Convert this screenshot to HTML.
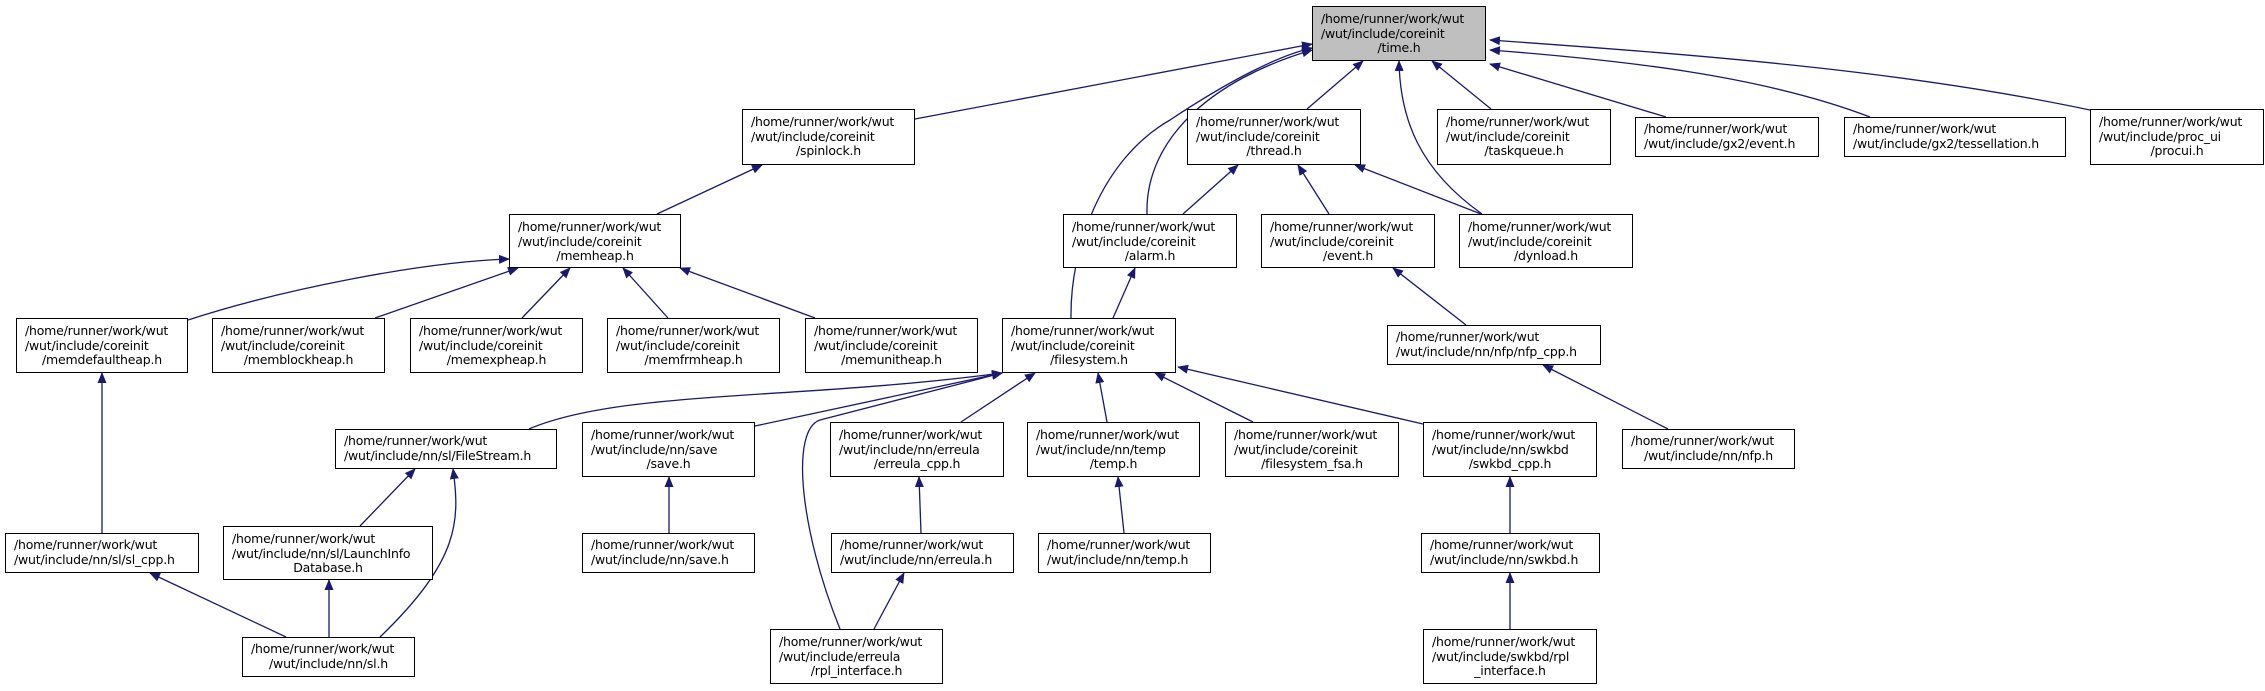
<!DOCTYPE html>
<html><head><meta charset="utf-8"><style>
html,body{margin:0;padding:0;background:#fff;}
#c{position:relative;width:2265px;height:691px;overflow:hidden;}
svg{position:absolute;left:0;top:0;}
.b{position:absolute;box-sizing:border-box;border:1px solid #000;background:#fff;font-family:"DejaVu Sans","Liberation Sans",sans-serif;font-size:12.5px;line-height:14.6px;color:#000;padding:5px 0 0 8px;white-space:nowrap;letter-spacing:-0.2px;}
.b.g{background:#bfbfbf;}
.b.t2{padding-top:4px;}
.b div.l{text-align:center;padding-right:8px;}
</style></head><body><div id="c">
<svg width="2265" height="691" viewBox="0 0 2265 691">
<defs><marker id="a" markerWidth="11" markerHeight="9" refX="10" refY="4.5" orient="auto" markerUnits="userSpaceOnUse"><path d="M0,0 L11,4.5 L0,9 z" fill="#191970"/></marker></defs>
<g fill="none" stroke="#191970" stroke-width="1.3" marker-end="url(#a)">
<path d="M915,119 L1312,44"/>
<path d="M657,214 L762,165"/>
<path d="M188,320 C280,290 420,262 509,259"/>
<path d="M375,318 L518,268"/>
<path d="M522,318 L570,268"/>
<path d="M668,318 L623,268"/>
<path d="M815,318 L680,268"/>
<path d="M1071,318 C1070,250 1100,160 1170,120 C1230,80 1280,55 1312,48"/>
<path d="M1147,214 C1145,140 1210,80 1312,50"/>
<path d="M1307,109 L1363,61"/>
<path d="M1491,109 L1432,61"/>
<path d="M1482,214 C1420,170 1400,120 1399,61"/>
<path d="M1666,117 L1490,64"/>
<path d="M1870,117 C1760,75 1620,60 1490,50"/>
<path d="M2090,110 C1900,70 1700,55 1490,40"/>
<path d="M1183,214 L1238,165"/>
<path d="M1329,214 L1298,165"/>
<path d="M1481,214 L1355,165"/>
<path d="M1113,318 L1135,268"/>
<path d="M1466,325 L1393,268"/>
<path d="M1668,429 L1543,365"/>
<path d="M529,429 C620,390 800,400 1002,373"/>
<path d="M755,426 L1002,373"/>
<path d="M840,629 C800,530 790,430 820,420 L1002,373"/>
<path d="M961,422 L1035,373"/>
<path d="M1107,422 L1098,373"/>
<path d="M1253,422 L1155,373"/>
<path d="M1423,424 L1178,367"/>
<path d="M102,533 L102,373"/>
<path d="M360,526 L415,469"/>
<path d="M380,637 C460,560 460,520 453,469"/>
<path d="M286,637 L150,573"/>
<path d="M329,637 L329,580"/>
<path d="M669,533 L669,477"/>
<path d="M921,533 L919,477"/>
<path d="M874,629 L904,573"/>
<path d="M1124,533 L1118,477"/>
<path d="M1510,533 L1510,477"/>
<path d="M1510,629 L1510,573"/>
</g></svg>

<div class="b g" style="left:1312px;top:6px;width:174px;height:55px">/home/runner/work/wut<br>/wut/include/coreinit<div class="l">/time.h</div></div>
<div class="b" style="left:742px;top:109px;width:173px;height:56px">/home/runner/work/wut<br>/wut/include/coreinit<div class="l">/spinlock.h</div></div>
<div class="b" style="left:1187px;top:109px;width:174px;height:56px">/home/runner/work/wut<br>/wut/include/coreinit<div class="l">/thread.h</div></div>
<div class="b" style="left:1437px;top:109px;width:174px;height:56px">/home/runner/work/wut<br>/wut/include/coreinit<div class="l">/taskqueue.h</div></div>
<div class="b t2" style="left:1635px;top:117px;width:184px;height:40px">/home/runner/work/wut<br>/wut/include/gx2/event.h</div>
<div class="b t2" style="left:1844px;top:117px;width:222px;height:40px">/home/runner/work/wut<br>/wut/include/gx2/tessellation.h</div>
<div class="b" style="left:2090px;top:109px;width:174px;height:56px">/home/runner/work/wut<br>/wut/include/proc_ui<div class="l">/procui.h</div></div>

<div class="b" style="left:509px;top:214px;width:172px;height:54px">/home/runner/work/wut<br>/wut/include/coreinit<div class="l">/memheap.h</div></div>
<div class="b" style="left:1063px;top:214px;width:174px;height:54px">/home/runner/work/wut<br>/wut/include/coreinit<div class="l">/alarm.h</div></div>
<div class="b" style="left:1261px;top:214px;width:174px;height:54px">/home/runner/work/wut<br>/wut/include/coreinit<div class="l">/event.h</div></div>
<div class="b" style="left:1459px;top:214px;width:174px;height:54px">/home/runner/work/wut<br>/wut/include/coreinit<div class="l">/dynload.h</div></div>
<div class="b t2" style="left:1387px;top:325px;width:214px;height:40px">/home/runner/work/wut<br>/wut/include/nn/nfp/nfp_cpp.h</div>

<div class="b" style="left:16px;top:318px;width:172px;height:55px">/home/runner/work/wut<br>/wut/include/coreinit<div class="l">/memdefaultheap.h</div></div>
<div class="b" style="left:212px;top:318px;width:173px;height:55px">/home/runner/work/wut<br>/wut/include/coreinit<div class="l">/memblockheap.h</div></div>
<div class="b" style="left:410px;top:318px;width:173px;height:55px">/home/runner/work/wut<br>/wut/include/coreinit<div class="l">/memexpheap.h</div></div>
<div class="b" style="left:607px;top:318px;width:173px;height:55px">/home/runner/work/wut<br>/wut/include/coreinit<div class="l">/memfrmheap.h</div></div>
<div class="b" style="left:805px;top:318px;width:173px;height:55px">/home/runner/work/wut<br>/wut/include/coreinit<div class="l">/memunitheap.h</div></div>
<div class="b" style="left:1002px;top:318px;width:174px;height:55px">/home/runner/work/wut<br>/wut/include/coreinit<div class="l">/filesystem.h</div></div>

<div class="b t2" style="left:335px;top:429px;width:222px;height:40px">/home/runner/work/wut<br>/wut/include/nn/sl/FileStream.h</div>
<div class="b" style="left:582px;top:422px;width:173px;height:55px">/home/runner/work/wut<br>/wut/include/nn/save<div class="l">/save.h</div></div>
<div class="b" style="left:830px;top:422px;width:174px;height:55px">/home/runner/work/wut<br>/wut/include/nn/erreula<div class="l">/erreula_cpp.h</div></div>
<div class="b" style="left:1027px;top:422px;width:173px;height:55px">/home/runner/work/wut<br>/wut/include/nn/temp<div class="l">/temp.h</div></div>
<div class="b" style="left:1225px;top:422px;width:174px;height:55px">/home/runner/work/wut<br>/wut/include/coreinit<div class="l">/filesystem_fsa.h</div></div>
<div class="b" style="left:1423px;top:422px;width:174px;height:55px">/home/runner/work/wut<br>/wut/include/nn/swkbd<div class="l">/swkbd_cpp.h</div></div>
<div class="b t2" style="left:1622px;top:429px;width:173px;height:40px">/home/runner/work/wut<br><div class="l">/wut/include/nn/nfp.h</div></div>

<div class="b t2" style="left:5px;top:533px;width:194px;height:40px">/home/runner/work/wut<br>/wut/include/nn/sl/sl_cpp.h</div>
<div class="b" style="left:223px;top:526px;width:210px;height:54px">/home/runner/work/wut<br>/wut/include/nn/sl/LaunchInfo<div class="l">Database.h</div></div>
<div class="b t2" style="left:582px;top:533px;width:173px;height:40px">/home/runner/work/wut<br>/wut/include/nn/save.h</div>
<div class="b t2" style="left:831px;top:533px;width:183px;height:40px">/home/runner/work/wut<br>/wut/include/nn/erreula.h</div>
<div class="b t2" style="left:1038px;top:533px;width:173px;height:40px">/home/runner/work/wut<br>/wut/include/nn/temp.h</div>
<div class="b t2" style="left:1421px;top:533px;width:179px;height:40px">/home/runner/work/wut<br>/wut/include/nn/swkbd.h</div>

<div class="b t2" style="left:242px;top:637px;width:173px;height:40px">/home/runner/work/wut<br><div class="l">/wut/include/nn/sl.h</div></div>
<div class="b" style="left:770px;top:629px;width:173px;height:55px">/home/runner/work/wut<br>/wut/include/erreula<div class="l">/rpl_interface.h</div></div>
<div class="b" style="left:1423px;top:629px;width:174px;height:55px">/home/runner/work/wut<br>/wut/include/swkbd/rpl<div class="l">_interface.h</div></div>
</div></body></html>
